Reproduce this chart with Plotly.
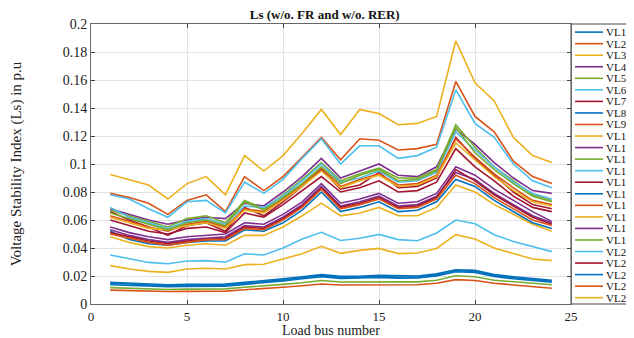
import plotly.graph_objects as go

load_bus = list(range(1, 25))

series_names = [f"VL{i}" for i in range(1, 25)]

VL1 = [.0155,.015,.0142,.0138,.014,.0142,.0142,.0155,.0165,.018,.0195,.021,.0198,.0198,.0205,.020,.020,.0215,.0245,.024,.021,.0195,.018,.017]
VL2 = [.0099,.0095,.0091,.0089,.009,.0091,.0092,.0102,.0109,.012,.013,.0143,.0136,.0137,.014,.0137,.0137,.0148,.0174,.0168,.0148,.0136,.0124,.0113]
VL3 = [.0274,.025,.0233,.0226,.025,.0255,.025,.0281,.0284,.0324,.0359,.0412,.0362,.0383,.0397,.036,.0364,.0397,.0495,.0464,.040,.036,.0321,.031]
VL4 = [.068,.064,.060,.057,.060,.062,.061,.072,.070,.080,.091,.104,.090,.095,.100,.092,.091,.098,.125,.114,.101,.090,.081,.079]
VL5 = [.0117,.0112,.0107,.0104,.0106,.0107,.0108,.012,.0128,.014,.0152,.0168,.0157,.0158,.0162,.0158,.0158,.017,.0202,.0195,.017,.0158,.0147,.0138]
VL6 = [.035,.0326,.0297,.0288,.0307,.031,.0298,.0359,.035,.040,.0464,.0512,.0454,.047,.0497,.046,.0452,.0507,.060,.0573,.0495,.0447,.0411,.0374]
VL7 = [.066,.060,.055,.049,.056,.058,.052,.069,.063,.073,.084,.096,.082,.085,.094,.083,.084,.090,.119,.104,.092,.080,.071,.068]
VL8 = [.0138,.0132,.0126,.0124,.0125,.0126,.0127,.014,.015,.0165,.018,.0195,.0183,.0185,.019,.0185,.0186,.020,.023,.0225,.0196,.018,.0165,.0155]
VL9 = [.079,.076,.072,.064,.074,.078,.066,.091,.081,.091,.105,.119,.103,.118,.117,.110,.111,.114,.159,.134,.123,.102,.091,.086]
VL10 = [.048,.044,.041,.040,.042,.043,.042,.049,.049,.055,.063,.072,.063,.065,.069,.063,.063,.069,.085,.080,.071,.064,.057,.052]
VL11 = [.055,.051,.048,.046,.048,.049,.050,.058,.057,.064,.073,.086,.072,.075,.079,.072,.073,.079,.098,.092,.082,.074,.066,.059]
VL12 = [.067,.063,.059,.055,.061,.063,.058,.074,.068,.078,.089,.101,.088,.093,.097,.090,.090,.096,.128,.112,.098,.088,.078,.074]
VL13 = [.069,.062,.058,.054,.059,.061,.057,.070,.069,.077,.088,.100,.087,.090,.095,.087,.088,.094,.123,.110,.098,.087,.079,.075]
VL14 = [.060,.056,.052,.050,.054,.055,.051,.065,.062,.071,.081,.091,.080,.083,.088,.080,.081,.087,.111,.098,.088,.077,.069,.066]
VL15 = [.052,.046,.043,.042,.044,.045,.045,.053,.052,.058,.067,.080,.066,.069,.073,.066,.067,.073,.089,.084,.074,.066,.058,.054]
VL16 = [.063,.059,.055,.052,.057,.059,.055,.068,.066,.075,.085,.097,.084,.089,.093,.085,.086,.092,.118,.105,.093,.083,.074,.071]
VL17 = [.062,.058,.054,.053,.056,.058,.054,.067,.065,.074,.084,.095,.083,.088,.092,.084,.085,.091,.115,.103,.091,.081,.073,.070]
VL18 = [.053,.049,.046,.044,.046,.047,.048,.056,.055,.062,.071,.084,.070,.073,.077,.070,.071,.077,.094,.089,.079,.071,.063,.058]
VL19 = [.065,.061,.057,.053,.058,.060,.056,.073,.067,.076,.086,.098,.086,.092,.096,.088,.089,.095,.126,.108,.096,.086,.077,.073]
VL20 = [.078,.075,.068,.062,.073,.074,.065,.087,.079,.089,.104,.118,.100,.113,.113,.104,.106,.112,.153,.129,.119,.100,.088,.083]
VL21 = [.051,.048,.045,.043,.045,.046,.047,.055,.054,.061,.070,.083,.069,.072,.076,.069,.070,.076,.096,.088,.078,.070,.062,.057]
VL22 = [.0148,.0142,.0135,.0132,.0134,.0135,.0135,.0148,.0158,.0172,.0188,.0203,.019,.0192,.0198,.0193,.0193,.0208,.0238,.0233,.0203,.0188,.0173,.0162]
VL23 = [.050,.047,.044,.042,.044,.046,.046,.054,.053,.060,.069,.082,.068,.071,.075,.068,.069,.075,.092,.086,.076,.068,.060,.056]
VL24 = [.0925,.089,.085,.075,.086,.091,.078,.106,.095,.106,.122,.139,.121,.139,.136,.128,.129,.134,.188,.158,.145,.119,.106,.101]

all_series = [VL1, VL2, VL3, VL4, VL5, VL6, VL7, VL8, VL9, VL10, VL11, VL12,
              VL13, VL14, VL15, VL16, VL17, VL18, VL19, VL20, VL21, VL22, VL23, VL24]

x_tick_vals = [0, 5, 10, 15, 20, 25]
y_tick_vals = [0, 0.02, 0.04, 0.06, 0.08, 0.1, 0.12, 0.14, 0.16, 0.18, 0.2]
y_tick_text = ["0", "0.02", "0.04", "0.06", "0.08", "0.1", "0.12", "0.14", "0.16", "0.18", "0.2"]

palette = ["#0072BD", "#D95319", "#EDB120", "#7E2F8E", "#77AC30", "#4DBEEE", "#A2142F"]
FONT = "Liberation Serif, Times New Roman, serif"

fig = go.Figure()
for i, (name, vals) in enumerate(zip(series_names, all_series)):
    fig.add_trace(go.Scatter(x=load_bus, y=vals, mode="lines", name=name,
                             line=dict(color=palette[i % 7], width=1.6),
                             showlegend=False))

# manual legend (one tight column, clipped at right edge like the original)
shapes = [dict(type="rect", xref="paper", yref="paper", x0=1.0, x1=1.35, y0=0, y1=1,
               line=dict(color="#444", width=1), fillcolor="white", layer="below")]
annotations = []
n = len(series_names)
for i, name in enumerate(series_names):
    yy = 0.971 - i * (0.971 - 0.0225) / (n - 1)
    shapes.append(dict(type="line", xref="paper", yref="paper", x0=1.0083, x1=1.0667,
                       y0=yy, y1=yy, line=dict(color=palette[i % 7], width=1.6)))
    annotations.append(dict(xref="paper", yref="paper", x=1.068, y=yy, text=name,
                            showarrow=False, xanchor="left", yanchor="middle",
                            font=dict(family=FONT, size=11, color="#111")))

fig.update_layout(
    width=626, height=330,
    margin=dict(l=83, r=63, t=16, b=34),
    paper_bgcolor="white", plot_bgcolor="white",
    title=dict(text="<b>Ls (w/o. FR and w/o. RER)</b>", x=0.506, xanchor="center",
               y=0.981, yanchor="middle", font=dict(family=FONT, size=13, color="#111")),
    shapes=shapes, annotations=annotations,
    font=dict(family=FONT, color="#222"),
)
fig.update_xaxes(range=[0, 25], tickvals=x_tick_vals, ticks="inside", ticklen=4,
                 showline=True, mirror="ticks", linecolor="#666", linewidth=1,
                 showgrid=True, gridcolor="#e4e4e4", zeroline=False, automargin=False,
                 tickfont=dict(family=FONT, size=13, color="#222"),
                 title=dict(text="Load bus number", font=dict(family=FONT, size=14, color="#222"),
                            standoff=1))
fig.update_yaxes(range=[0, 0.2], tickvals=y_tick_vals, ticktext=y_tick_text,
                 ticks="inside", ticklen=4,
                 showline=True, mirror="ticks", linecolor="#666", linewidth=1,
                 showgrid=True, gridcolor="#e4e4e4", zeroline=False, automargin=False,
                 tickfont=dict(family=FONT, size=14, color="#222"),
                 title=dict(text="Voltage Stability Index (Ls) in p.u",
                            font=dict(family=FONT, size=15, color="#222"), standoff=37))

fig.write_html("out.html")
